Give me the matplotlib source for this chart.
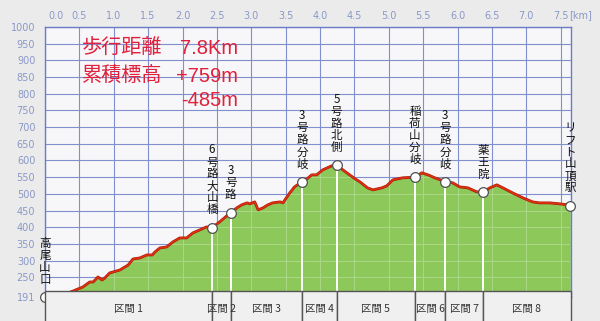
import matplotlib
matplotlib.use("Agg")
import matplotlib.pyplot as plt
import matplotlib.transforms as mtransforms
from matplotlib.patches import Rectangle

plt.rcParams['font.family'] = ['Noto Sans CJK JP', 'DejaVu Sans']

# ---- data ----
dist_km = [0.00, 0.22, 0.41, 0.55, 0.65, 0.70, 0.77, 0.83, 0.87, 0.94, 1.09, 1.21, 1.28,
           1.38, 1.48, 1.56, 1.60, 1.67, 1.77, 1.86, 1.96, 2.06, 2.15, 2.25, 2.35, 2.43,
           2.54, 2.70, 2.79, 2.86, 2.94, 2.98, 3.05, 3.10, 3.17, 3.24, 3.31, 3.42, 3.46,
           3.56, 3.63, 3.74, 3.81, 3.88, 3.95, 4.04, 4.17, 4.24, 4.39, 4.51, 4.58, 4.69,
           4.77, 4.90, 4.97, 5.06, 5.20, 5.38, 5.48, 5.57, 5.67, 5.82, 5.93, 6.03, 6.15,
           6.28, 6.37, 6.47, 6.57, 6.66, 6.80, 6.95, 7.09, 7.19, 7.34, 7.49, 7.60, 7.64]
elev_m = [191, 194, 209, 221, 236, 236, 251, 242, 248, 263, 272, 287, 305,
          308, 317, 317, 326, 338, 341, 356, 368, 368, 383, 392, 401, 399,
          416, 444, 458, 467, 473, 470, 476, 452, 458, 467, 473, 476, 473,
          503, 521, 537, 545, 557, 557, 572, 584, 586, 563, 545, 536, 518,
          512, 518, 524, 542, 548, 550, 563, 557, 548, 537, 533, 521, 518,
          506, 506, 518, 527, 518, 503, 488, 476, 473, 473, 470, 467, 465]

wp_names = ["高尾山口", "6号路大山橋", "3号路", "3号路分岐", "5号路北側",
            "稲荷山分岐", "3号路分岐", "薬王院", "リフト山頂駅"]
wp_km = [0.00, 2.43, 2.70, 3.74, 4.24, 5.38, 5.82, 6.37, 7.64]
wp_m = [191, 399, 444, 537, 586, 550, 537, 506, 465]

sec_edges_km = [0.00, 2.43, 2.70, 3.74, 4.24, 5.38, 5.82, 6.37, 7.65]
sec_labels = ["区間 1", "区間 2", "区間 3", "区間 4", "区間 5", "区間 6", "区間 7", "区間 8"]

xticks_km = [0.0, 0.5, 1.0, 1.5, 2.0, 2.5, 3.0, 3.5, 4.0, 4.5, 5.0, 5.5, 6.0, 6.5, 7.0, 7.5]
yticks_m = [191, 250, 300, 350, 400, 450, 500, 550, 600, 650, 700, 750, 800, 850, 900, 950, 1000]

summary_labels = ["歩行距離", "累積標高", ""]
summary_values = ["7.8Km", "+759m", "-485m"]

# ---- style ----
W, H = 600, 321
BG = '#ebebeb'
PLOT_BG = '#f7f7f9'
GRID = '#8190cc'
TICK_C = '#8a98c8'
GREEN = '#8dc85a'
RED_LINE = '#e0300f'
RED_TXT = '#e0203c'

fig = plt.figure(figsize=(W / 100, H / 100), dpi=100, facecolor=BG)
ax = fig.add_axes([45 / W, 1 - 297 / H, (571 - 45) / W, 270 / H])
ax.set_facecolor(PLOT_BG)
ax.set_xlim(0, 7.65)
ax.set_ylim(191, 1000)

# grid
for v in xticks_km:
    ax.axvline(v, color=GRID, lw=0.8, zorder=1)
for v in yticks_m:
    ax.axhline(v, color=GRID, lw=0.8, zorder=1)

# fill + profile
poly = ax.fill_between(dist_km, 191, elev_m, color=GREEN, lw=0, zorder=2)
clip_path = poly.get_paths()[0]
for v in xticks_km:
    ln = ax.axvline(v, color='#a9d884', lw=0.8, zorder=2.5)
    ln.set_clip_path(clip_path, ax.transData)
for v in yticks_m[1:]:
    ln = ax.axhline(v, color='#a9d884', lw=0.8, zorder=2.5)
    ln.set_clip_path(clip_path, ax.transData)

ax.plot(dist_km, elev_m, color='#a81808', lw=2.0, zorder=3, solid_joinstyle='round')
ax.plot(dist_km, elev_m, color=RED_LINE, lw=1.2, zorder=3.1, solid_joinstyle='round')

# waypoints
for name, k, m in zip(wp_names, wp_km, wp_m):
    if 0 < k < 7.6:
        ax.plot([k, k], [191, m], color='white', lw=1.4, zorder=3.5)
    ax.plot(k, m, 'o', ms=7, mfc='white', mec='#505050', mew=0.9, zorder=6, clip_on=False)
    ax.annotate('\n'.join(name), xy=(k, m), xytext=(0, 8), textcoords='offset points',
                ha='center', va='bottom', multialignment='center',
                fontsize=8.3, linespacing=0.9, color='#111111', zorder=7,
                annotation_clip=False)

# axes decoration
for s in ax.spines.values():
    s.set_color('#6c7cc4')
    s.set_linewidth(1.0)
ax.set_xticks([])
ax.set_yticks(yticks_m)
ax.set_yticklabels([str(v) for v in yticks_m], family='DejaVu Sans')
ax.tick_params(axis='y', length=0, pad=7, labelsize=7, colors=TICK_C)

trans = mtransforms.blended_transform_factory(ax.transData, ax.transAxes)
for v in xticks_km:
    dx = 8 if v == 0 else 0
    ax.annotate(f"{v:.1f}", xy=(v, 1.0), xycoords=trans, xytext=(dx, 8),
                textcoords='offset points', ha='center', va='center',
                fontsize=7, color=TICK_C, family='DejaVu Sans', annotation_clip=False)
fig.text(569 / W, 1 - 15 / H, "[km]", ha='left', va='center', fontsize=7,
         color=TICK_C, family='DejaVu Sans')

# summary text
rows_y = [48, 76, 101]
for lab, val, yy in zip(summary_labels, summary_values, rows_y):
    if lab:
        fig.text(82 / W, 1 - yy / H, lab, ha='left', va='center', fontsize=14.5, color=RED_TXT)
    fig.text(238 / W, 1 - yy / H, val, ha='right', va='center', fontsize=14.5, color=RED_TXT,
             family=['Liberation Sans', 'DejaVu Sans'])

# section band
bx = fig.add_axes([45 / W, -0.05, (571 - 45) / W, (321 - 299) / H + 0.05])
bx.set_xlim(0, 7.65)
bx.set_ylim(0, 1)
bx.axis('off')
for i, lab in enumerate(sec_labels):
    x0, x1 = sec_edges_km[i], sec_edges_km[i + 1]
    r = Rectangle((x0, 0), x1 - x0, 1.2, facecolor='#f0f0f0', edgecolor='#555555', lw=1.0,
                  clip_on=False)
    bx.add_patch(r)
    t = bx.text((x0 + x1) / 2, 1 - 0.5 * (11 / ((321 - 299) + 0.05 * H)) * 1.9, lab,
                ha='center', va='center', fontsize=7.5, color='#333333')
    t.set_clip_path(r)

fig.savefig('out.png', dpi=100, facecolor=BG)
